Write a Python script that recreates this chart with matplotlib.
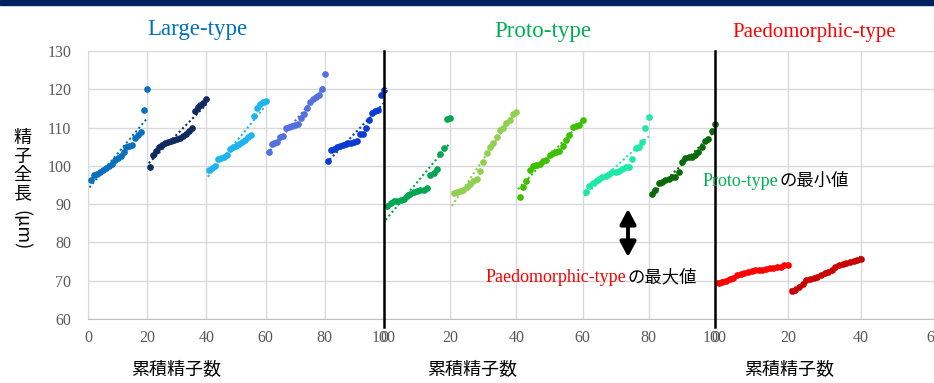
import matplotlib
matplotlib.use("Agg")
import matplotlib.pyplot as plt
import numpy as np
from matplotlib.lines import Line2D
from matplotlib.patches import Rectangle, FancyArrowPatch

plt.rcParams['font.family'] = ['Liberation Serif', 'Noto Sans CJK JP', 'DejaVu Sans']

# ---------------- data ----------------
count = list(range(1, 21))          # sperm index within each sample

large_offsets = [0, 20, 40, 60, 80]
large_1 = [96.3, 97.6, 98.0, 98.5, 99.0, 99.5, 100.0, 100.5, 101.5, 102.0,
           102.5, 103.5, 104.8, 105.2, 105.4, 107.2, 108.0, 108.8, 114.6, 120.1]
large_2 = [99.8, 102.9, 104.0, 104.8, 105.5, 106.0, 106.3, 106.5, 106.7, 107.0,
           107.4, 107.8, 108.2, 109.0, 109.8, 114.3, 115.5, 116.0, 116.4, 117.5]
large_3 = [99.0, 99.5, 100.0, 101.8, 102.1, 102.4, 102.8, 104.3, 104.8, 105.2,
           105.7, 106.2, 106.8, 107.6, 108.1, 112.9, 115.0, 116.2, 116.6, 117.0]
large_4 = [103.5, 105.6, 106.0, 106.3, 107.6, 107.9, 109.9, 110.2, 110.4, 110.6,
           111.0, 112.5, 113.5, 115.1, 116.7, 117.4, 118.0, 118.6, 120.0, 124.1]
large_5 = [101.3, 104.1, 104.5, 104.9, 105.1, 105.4, 105.7, 106.0, 106.1, 106.3,
           106.6, 108.3, 108.4, 110.0, 111.9, 113.8, 114.3, 114.6, 118.6, 119.7]
large_colors = ['#0B6FBF', '#0F2A5F', '#1EB4F0', '#5470E0', '#0A3CD2']

proto_offsets = [0, 20, 40, 60, 80]
proto_1 = [89.6, 90.4, 90.7, 90.9, 91.1, 91.3, 92.0, 92.6, 93.2, 93.5,
           93.6, 93.8, 94.2, 97.7, 98.2, 99.2, 103.0, 104.7, 112.2, 112.6]
proto_2 = [92.9, 93.2, 93.4, 93.7, 94.5, 95.2, 96.0, 96.5, 98.6, 101.1,
           103.4, 104.9, 106.1, 107.5, 109.4, 110.0, 111.3, 112.0, 113.5, 114.1]
proto_3 = [91.8, 94.6, 96.1, 98.9, 99.9, 100.1, 100.6, 101.2, 101.5, 102.8,
           103.3, 103.7, 104.0, 105.2, 106.8, 108.1, 110.1, 110.4, 110.7, 112.0]
proto_4 = [93.3, 94.8, 95.5, 96.1, 96.5, 97.0, 97.4, 97.9, 98.3, 98.3,
           98.7, 99.2, 99.6, 99.8, 101.7, 104.6, 105.0, 106.3, 109.8, 112.7]
proto_5 = [92.6, 93.6, 95.5, 95.9, 96.3, 96.6, 97.0, 97.2, 98.5, 100.9,
           102.0, 102.3, 102.4, 102.9, 103.7, 104.8, 106.5, 107.0, 109.2, 111.0]
proto_colors = ['#00A651', '#92D050', '#3CC000', '#1DE9A6', '#0A6A0A']

paedo_offsets = [0, 20]
paedo_1 = [69.5, 69.7, 70.0, 70.4, 70.8, 71.4, 71.7, 72.0, 72.3, 72.5,
           72.7, 72.8, 72.9, 73.0, 73.2, 73.4, 73.6, 73.7, 74.0, 74.1]
paedo_2 = [67.4, 67.6, 68.4, 69.1, 70.1, 70.4, 70.6, 71.1, 71.5, 72.0,
           72.3, 72.8, 73.5, 74.1, 74.3, 74.6, 74.9, 75.2, 75.5, 75.8]
paedo_colors = ['#FF0000', '#C80000']

panel_titles = ['Large-type', 'Proto-type', 'Paedomorphic-type']
title_colors = ['#0070C0', '#00B050', '#FF0000']
x_limits = [100, 100, 60]
y_ticks = [60, 70, 80, 90, 100, 110, 120, 130]
x_label = '累積精子数'
y_label_chars = ['精', '子', '全', '長']
y_label_unit = '(μm)'

W, H = 934, 383
fig = plt.figure(figsize=(W / 100, H / 100), dpi=100)

def fx(px):
    return px / W

def fy(py):
    return 1 - py / H

top_px, bot_px = 51, 319
panel_px = [(88, 384), (384, 715), (715, 934)]
axes = []
for (l, r) in panel_px:
    ax = fig.add_axes([fx(l), fy(bot_px), (r - l) / W, (bot_px - top_px) / H])
    axes.append(ax)

groups = [
    ([large_1, large_2, large_3, large_4, large_5], large_offsets, large_colors),
    ([proto_1, proto_2, proto_3, proto_4, proto_5], proto_offsets, proto_colors),
    ([paedo_1, paedo_2], paedo_offsets, paedo_colors),
]

grid_c = '#D9D9D9'
tick_c = '#595959'
for i, (ax, (series, offsets, colors)) in enumerate(zip(axes, groups)):
    xmax = x_limits[i]
    ax.set_xlim(0, xmax)
    ax.set_ylim(60, 130)
    ax.set_xticks(np.arange(0, xmax + 1, 20))
    ax.set_yticks(y_ticks)
    ax.grid(True, color=grid_c, lw=1.0, zorder=0)
    ax.set_axisbelow(True)
    for s in ['top', 'right', 'left', 'bottom']:
        ax.spines[s].set_visible(False)
    ax.spines['bottom'].set_visible(True)
    ax.spines['bottom'].set_color('#BFBFBF')
    ax.tick_params(length=0, labelsize=11.5, labelcolor=tick_c, pad=8)
    if i == 0:
        ax.spines['left'].set_visible(True)
        ax.spines['left'].set_color('#D9D9D9')
        ax.tick_params(axis='y', pad=12)
    else:
        ax.tick_params(axis='y', labelleft=False)
    for vals, off, col in zip(series, offsets, colors):
        x = np.array(count) + off
        y = np.array(vals)
        k, b = np.polyfit(x, y, 1)
        xt = np.array([x.min() - 0.5, x.max()])
        ax.plot(xt, k * xt + b, ls=(0, (1, 1.3)), color=col, lw=1.5, zorder=2)
        ax.plot(x, y, 'o', ms=3.8, color=col, mec=col, zorder=3, clip_on=False)
    ax.patch.set_alpha(0)

# divider lines
for xp in (384, 715):
    fig.add_artist(Line2D([fx(xp), fx(xp)], [fy(327), fy(51)], color='black', lw=1.8))

# top band
fig.add_artist(Rectangle((0, fy(5)), 1, 5 / H, color='#002060', transform=fig.transFigure))

# panel titles
title_pos = [(197, 30, 16.5), (543, 31, 16.5), (814, 33, 15)]
for t, c, (xp, yp, fs) in zip(panel_titles, title_colors, title_pos):
    fig.text(fx(xp), fy(yp), t, color=c, fontsize=fs, ha='center', va='center',
             family='Liberation Serif')

# x labels
for xp in (176, 472, 789):
    fig.text(fx(xp), fy(369), x_label, fontsize=13, ha='center', va='center',
             family=['Noto Sans CJK JP'])

# y label (vertical)
for j, ch in enumerate(y_label_chars):
    fig.text(fx(22), fy(138 + j * 18.5), ch, fontsize=13, ha='center', va='center',
             family=['Noto Sans CJK JP'])
fig.text(fx(22), fy(230), y_label_unit, fontsize=13, ha='center', va='center',
         rotation=270, family=['Noto Sans CJK JP', 'DejaVu Sans'])

# annotations
fig.text(fx(778), fy(181), 'Proto-type', color='#00B050', fontsize=13,
         ha='right', va='center', family='Liberation Serif')
fig.text(fx(779), fy(181), 'の最小値', color='black', fontsize=12.5,
         ha='left', va='center', family=['Noto Sans CJK JP'])
fig.text(fx(626), fy(277), 'Paedomorphic-type', color='#FF0000', fontsize=13,
         ha='right', va='center', family='Liberation Serif')
fig.text(fx(627), fy(277), 'の最大値', color='black', fontsize=12.5,
         ha='left', va='center', family=['Noto Sans CJK JP'])

arrow = FancyArrowPatch((fx(628), fy(257)), (fx(628), fy(209)),
                        transform=fig.transFigure,
                        arrowstyle='<|-|>,head_length=0.6,head_width=0.32',
                        mutation_scale=15, color='black', lw=2.8,
                        shrinkA=0, shrinkB=0)
fig.add_artist(arrow)

fig.savefig('out.png', dpi=100)
